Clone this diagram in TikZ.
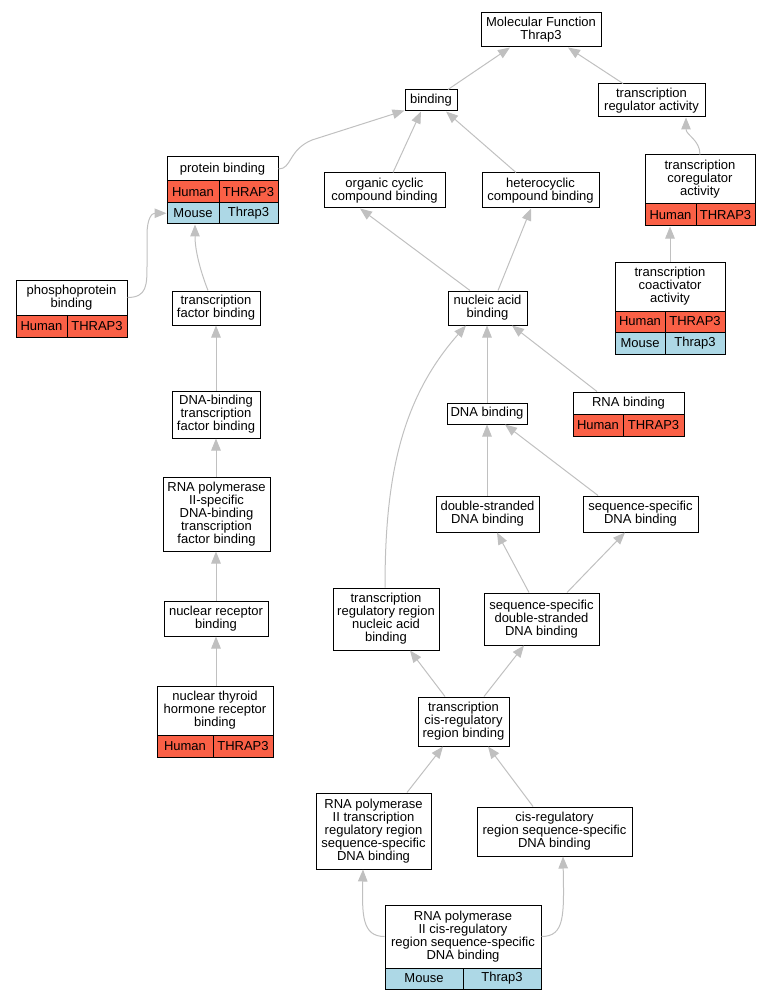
\documentclass[tikz,border=0pt]{standalone}
\usepackage{fontspec}
\setmainfont{Liberation Sans}
\usetikzlibrary{arrows.meta}
\definecolor{hcol}{HTML}{FA6046}
\definecolor{mcol}{HTML}{ADD8E6}
\definecolor{ecol}{HTML}{C0C0C0}
\begin{document}
\begin{tikzpicture}[x=1pt,y=-1pt,
  box/.style={draw, line width=1pt, fill=white, inner sep=0pt, align=center,
    font=\fontsize{13}{13}\selectfont},
  hum/.style={box, fill=hcol},
  mou/.style={box, fill=mcol},
  edge/.style={draw=ecol, line width=1pt, -{Triangle[length=12pt,width=9.5pt]}}]
\useasboundingbox (0,0) rectangle (771,1000);
% plain nodes
\node[box, minimum width=120, minimum height=34] (mf) at (541,30) {Molecular Function\\Thrap3};
\node[box, minimum width=52, minimum height=21] (bind) at (431,100.5) {binding};
\node[box, minimum width=107, minimum height=33] (tra) at (651.5,100.5) {transcription\\regulator activity};
\node[box, minimum width=121, minimum height=35] (occ) at (384.5,190.5) {organic cyclic\\compound binding};
\node[box, minimum width=117, minimum height=35] (hcc) at (540.5,190.5) {heterocyclic\\compound binding};
\node[box, minimum width=88, minimum height=34] (tfb) at (216,308) {transcription\\factor binding};
\node[box, minimum width=79, minimum height=34] (nab) at (487.5,308) {nucleic acid\\binding};
\node[box, minimum width=88, minimum height=47] (dbtfb) at (216,414.5) {DNA-binding\\transcription\\factor binding};
\node[box, minimum width=80, minimum height=21] (dnab) at (487,413.5) {DNA binding};
\node[box, minimum width=107, minimum height=74] (rp2tf) at (216.5,514) {RNA polymerase\\II-specific\\DNA-binding\\transcription\\factor binding};
\node[box, minimum width=103, minimum height=36] (dsdna) at (487.5,514) {double-stranded\\DNA binding};
\node[box, minimum width=115, minimum height=36] (ssdna) at (640.5,514) {sequence-specific\\DNA binding};
\node[box, minimum width=104, minimum height=35] (nrb) at (216,618.5) {nuclear receptor\\binding};
\node[box, minimum width=106, minimum height=62] (trrnab) at (386,619) {transcription\\regulatory region\\nucleic acid\\binding};
\node[box, minimum width=115, minimum height=52] (ssds) at (541.5,619) {sequence-specific\\double-stranded\\DNA binding};
\node[box, minimum width=91, minimum height=49] (tcr) at (463.5,721.5) {transcription\\cis-regulatory\\region binding};
\node[box, minimum width=115, minimum height=76] (rp2trr) at (373.5,831) {RNA polymerase\\II transcription\\regulatory region\\sequence-specific\\DNA binding};
\node[box, minimum width=155, minimum height=49] (crss) at (554.5,831.5) {cis-regulatory\\region sequence-specific\\DNA binding};
% protein binding table
\node[box, minimum width=111, minimum height=24] (pbh) at (222.5,169) {protein binding};
\node[hum, minimum width=52, minimum height=21.5] (pbhL) at (193,191.75) {Human};
\node[hum, minimum width=59, minimum height=21.5] (pbhR) at (248.5,191.75) {THRAP3};
\node[mou, minimum width=52, minimum height=21.5] (pbmL) at (193,213.25) {Mouse};
\node[mou, minimum width=59, minimum height=21.5] (pbmR) at (248.5,213.25) {Thrap3};
% transcription coregulator activity
\node[box, minimum width=110, minimum height=49] (tcoregh) at (700,179.5) {transcription\\coregulator\\activity};
\node[hum, minimum width=51, minimum height=22] (tcoregL) at (670.5,215) {Human};
\node[hum, minimum width=59, minimum height=22] (tcoregR) at (725.5,215) {THRAP3};
% phosphoprotein binding
\node[box, minimum width=111, minimum height=35] (pph) at (71.5,297.5) {phosphoprotein\\binding};
\node[hum, minimum width=51, minimum height=22] (ppL) at (41.5,326) {Human};
\node[hum, minimum width=60, minimum height=22] (ppR) at (97,326) {THRAP3};
% transcription coactivator activity
\node[box, minimum width=110, minimum height=49] (tcoacth) at (670,286.5) {transcription\\coactivator\\activity};
\node[hum, minimum width=50, minimum height=21] (tcoactHL) at (640,321.5) {Human};
\node[hum, minimum width=60, minimum height=21] (tcoactHR) at (695,321.5) {THRAP3};
\node[mou, minimum width=50, minimum height=22] (tcoactML) at (640,343) {Mouse};
\node[mou, minimum width=60, minimum height=22] (tcoactMR) at (695,343) {Thrap3};
% RNA binding
\node[box, minimum width=111, minimum height=22] (rnabh) at (628.5,403) {RNA binding};
\node[hum, minimum width=50, minimum height=22] (rnabL) at (598,425) {Human};
\node[hum, minimum width=61, minimum height=22] (rnabR) at (653.5,425) {THRAP3};
% nuclear thyroid hormone receptor binding
\node[box, minimum width=116, minimum height=49] (nthrbh) at (215,710.5) {nuclear thyroid\\hormone receptor\\binding};
\node[hum, minimum width=56, minimum height=22] (nthrbL) at (185,746) {Human};
\node[hum, minimum width=60, minimum height=22] (nthrbR) at (243,746) {THRAP3};
% bottom node
\node[box, minimum width=156, minimum height=63] (both) at (463,936.5) {RNA polymerase\\II cis-regulatory\\region sequence-specific\\DNA binding};
\node[mou, minimum width=78, minimum height=21] (botL) at (424,978.5) {Mouse};
\node[mou, minimum width=78, minimum height=21] (botR) at (502,978.5) {Thrap3};
% edges
\path[edge] ([xshift=17pt]bind.north) -- ([xshift=-31pt]mf.south);
\path[edge] ([xshift=-28.5pt]tra.north) -- ([xshift=27pt]mf.south);
\path[edge] (pbh.east) .. controls (292,169) and (288,150) .. (312,140) -- ([yshift=1pt]bind.south west);
\path[edge] ([xshift=8.5pt]occ.north) -- ([xshift=-10pt]bind.south);
\path[edge] ([xshift=-24.5pt]hcc.north) -- ([xshift=15pt]bind.south);
\path[edge] (tcoregh.north) .. controls (700,140) and (686,135) .. ([xshift=34.5pt]tra.south);
\path[edge] (pph.east) .. controls (147,297.5) and (147,285) .. (147,265) -- (147,235) .. controls (147,218) and (152,213.25) .. (pbmL.west);
\path[edge] ([xshift=-8pt]tfb.north) .. controls (200,270) and (195,250) .. ([xshift=2pt]pbmL.south);
\path[edge] ([xshift=-17.5pt]nab.north) -- ([xshift=-24.5pt]occ.south);
\path[edge] ([xshift=10.5pt]nab.north) -- ([xshift=-9.5pt]hcc.south);
\path[edge] (tcoacth.north) -- ([xshift=-0.5pt]tcoregL.south);
\path[edge] (dbtfb.north) -- (tfb.south);
\path[edge] (dnab.north) -- ([xshift=-0.5pt]nab.south);
\path[edge] ([xshift=-31.5pt]rnabh.north) -- ([xshift=24.5pt]nab.south);
\path[edge] ([xshift=-0.5pt]rp2tf.north) -- (dbtfb.south);
\path[edge] ([xshift=-0.5pt]dsdna.north) -- (dnab.south);
\path[edge] ([xshift=-42.5pt]ssdna.north) -- ([xshift=18pt]dnab.south);
\path[edge] (nrb.north) -- ([xshift=-0.5pt]rp2tf.south);
\path[edge] ([xshift=-1pt]trrnab.north) .. controls (385,480) and (400,400) .. ([xshift=-21.5pt]nab.south);
\path[edge] ([xshift=-12.5pt]ssds.north) -- ([xshift=9.5pt]dsdna.south);
\path[edge] ([xshift=25.5pt]ssds.north) -- ([xshift=-15.5pt]ssdna.south);
\path[edge] ([xshift=1pt]nthrbh.north) -- (nrb.south);
\path[edge] ([xshift=-18.5pt]tcr.north) -- ([xshift=24pt]trrnab.south);
\path[edge] ([xshift=20.5pt]tcr.north) -- ([xshift=-17.5pt]ssds.south);
\path[edge] ([xshift=33.5pt]rp2trr.north) -- ([xshift=-20.5pt]tcr.south);
\path[edge] ([xshift=-21.5pt]crss.north) -- ([xshift=24.5pt]tcr.south);
\path[edge] (both.west) .. controls (362,936.5) and (362,915) .. ([xshift=-10.5pt]rp2trr.south);
\path[edge] (both.east) .. controls (565,936.5) and (564,915) .. ([xshift=8.5pt]crss.south);
\end{tikzpicture}
\end{document}
